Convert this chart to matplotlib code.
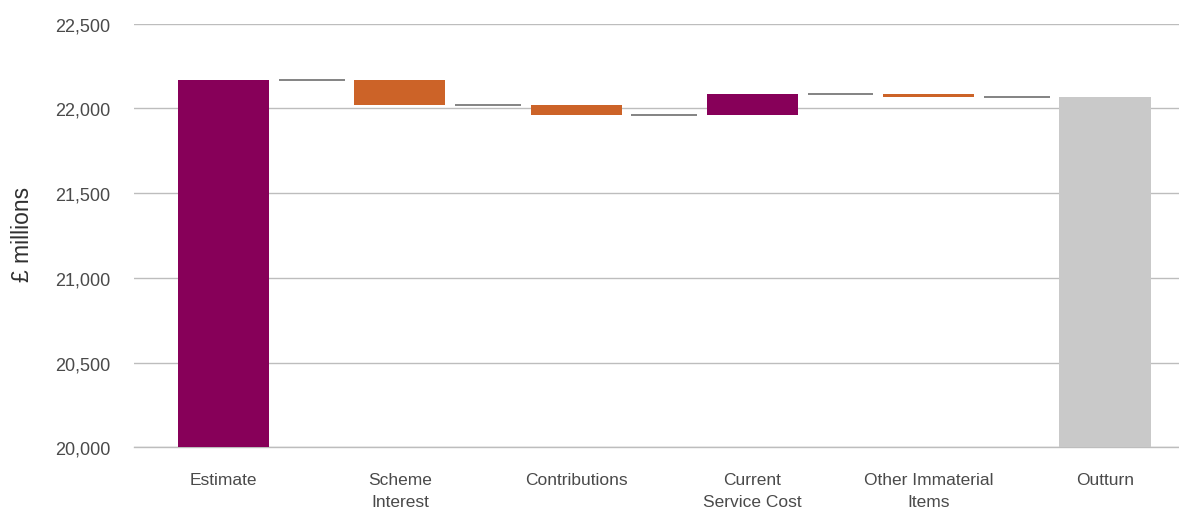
import matplotlib
matplotlib.use("Agg")
import matplotlib.pyplot as plt

# waterfall: estimate -> outturn, £ millions
categories = ["Estimate", "Scheme\nInterest", "Contributions", "Current\nService Cost", "Other Immaterial\nItems", "Outturn"]
estimate = 22167
changes = [-146, -59, 122, -19]
outturn = 22065

purple = "#870059"
orange = "#CC6328"
grey = "#C9C9C9"

plt.rcParams['font.family'] = ['Liberation Sans', 'DejaVu Sans']

fig = plt.figure(figsize=(11.79, 5.10), dpi=100)
ax = fig.add_axes([0.1137, 0.121, 0.8863, 0.8306])

base = 20000
w = 0.517

# first and last bars are totals
ax.bar(0, estimate - base, bottom=base, width=w, color=purple, zorder=3)
ax.bar(len(categories) - 1, outturn - base, bottom=base, width=w, color=grey, zorder=3)

level = estimate
levels = [estimate]
for i, c in enumerate(changes):
    col = purple if c > 0 else orange
    ax.bar(i + 1, c, bottom=level, width=w, color=col, zorder=3)
    level += c
    levels.append(level)

# connector lines between bars
for i, lv in enumerate(levels):
    ax.plot([i + 0.314, i + 0.686], [lv, lv], color="#7a7a7a", lw=1.3, zorder=4,
            solid_capstyle="butt")

ax.set_ylim(20000, 22500)
ax.set_xlim(-0.508, 5.42)
ax.set_yticks(range(20000, 22501, 500))
ax.set_yticklabels([f"{v:,}" for v in range(20000, 22501, 500)])
ax.set_xticks(range(len(categories)))
ax.set_xticklabels(categories, linespacing=1.6)

ax.grid(axis="y", color="#BDBDBD", lw=1.0, zorder=0)
for s in ax.spines.values():
    s.set_visible(False)
ax.spines["bottom"].set_visible(True)
ax.spines["bottom"].set_color("#BDBDBD")
ax.spines["bottom"].set_linewidth(1.0)
ax.tick_params(axis="both", length=0, colors="#4a4a4a")
ax.tick_params(axis="y", labelsize=13, pad=17)
ax.tick_params(axis="x", labelsize=12.5, pad=18)

fig.text(0.019, 0.54, "£ millions", rotation=90, fontsize=16.5, color="#303030",
         ha="center", va="center")

fig.savefig("out.png", dpi=100)
